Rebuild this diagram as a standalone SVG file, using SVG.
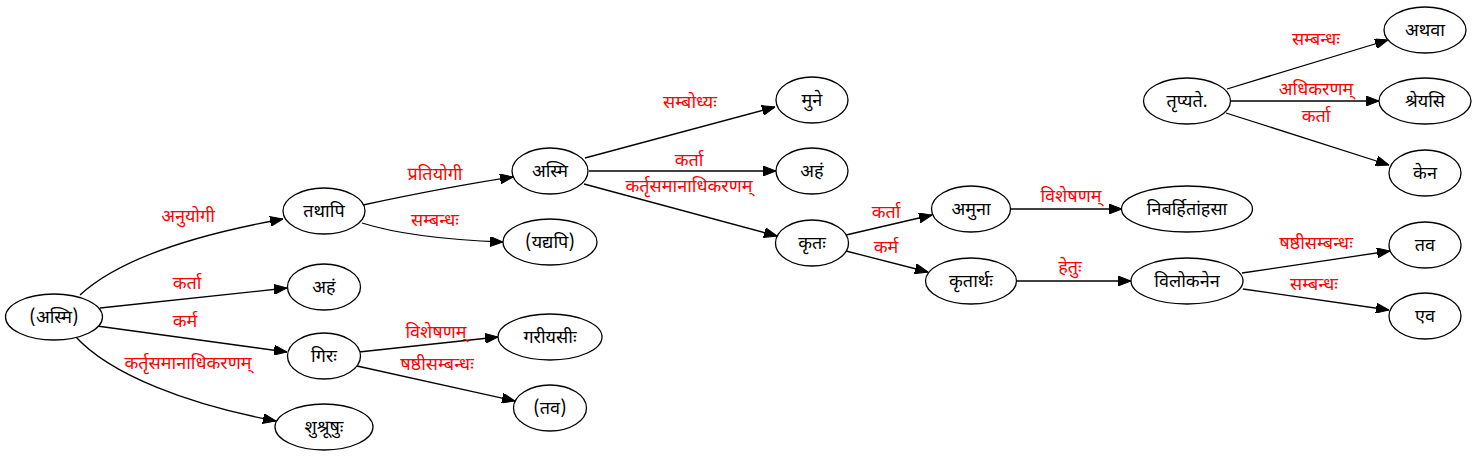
<svg xmlns="http://www.w3.org/2000/svg" width="1476" height="457" viewBox="0 0 1476 457">
<style>
.n ellipse{fill:#fff;stroke:#000;stroke-width:1.3}
.n text{font-family:"Noto Sans Devanagari","Lohit Devanagari","Noto Sans","DejaVu Sans",sans-serif;font-size:18px;fill:#000;text-anchor:middle}
.e path{fill:none;stroke:#000;stroke-width:1.3;marker-end:url(#ah)}
.e text{font-family:"Noto Sans Devanagari","Lohit Devanagari","Noto Sans","DejaVu Sans",sans-serif;font-size:18px;fill:#ff0000;text-anchor:middle}
</style>
<defs>
<marker id="ah" viewBox="0 0 13 10" refX="13" refY="5" markerWidth="13" markerHeight="10" markerUnits="userSpaceOnUse" orient="auto">
<path d="M0,0 L13,5 L0,10 z" fill="#000" stroke="#000" stroke-width="1"/>
</marker>
</defs>
<rect width="1476" height="457" fill="#fff"/>
<g id="edges" class="e">
<path d="M80,295 C120,258 200,234 283,219"/>
<text x="188" y="222">अनुयोगी</text>
<path d="M100,308 L287,288"/>
<text x="187" y="289">कर्ता</text>
<path d="M97,326 L287,352"/>
<text x="185" y="327">कर्म</text>
<path d="M75,336 C110,375 190,405 276,421"/>
<text x="188" y="369">कर्तृसमानाधिकरणम्</text>
<path d="M363,205 C410,195 460,185 513,177"/>
<text x="435" y="180">प्रतियोगी</text>
<path d="M362,223 C400,235 450,240 503,242"/>
<text x="435" y="226">सम्बन्धः</text>
<path d="M359,352 L498,337"/>
<text x="436" y="338">विशेषणम्</text>
<path d="M357,366 L515,401"/>
<text x="437" y="370">षष्ठीसम्बन्धः</text>
<path d="M585,158 L775,107"/>
<text x="690" y="108">सम्बोध्यः</text>
<path d="M589,171 L776,171"/>
<text x="689" y="166">कर्ता</text>
<path d="M584,184 L777,236"/>
<text x="689" y="192">कर्तृसमानाधिकरणम्</text>
<path d="M846,235 L932,215"/>
<text x="886" y="218">कर्ता</text>
<path d="M846,251 L928,272"/>
<text x="886" y="253">कर्म</text>
<path d="M1011,209 L1122,209"/>
<text x="1071" y="202">विशेषणम्</text>
<path d="M1017,281 L1131,281"/>
<text x="1070" y="273">हेतुः</text>
<path d="M1242,273 L1390,251"/>
<text x="1316" y="249">षष्ठीसम्बन्धः</text>
<path d="M1243,289 L1389,310"/>
<text x="1314" y="290">सम्बन्धः</text>
<path d="M1227,89 L1388,40"/>
<text x="1316" y="45">सम्बन्धः</text>
<path d="M1231,101 L1379,101"/>
<text x="1316" y="95">अधिकरणम्</text>
<path d="M1226,113 L1389,165"/>
<text x="1316" y="122">कर्ता</text>
</g>
<g id="n_asmi_root" class="n"><ellipse cx="54" cy="317" rx="48.5" ry="23"/><text x="54" y="323">(अस्मि)</text></g>
<g id="n_tathapi" class="n"><ellipse cx="324" cy="211" rx="41" ry="23"/><text x="324" y="217">तथापि</text></g>
<g id="n_aham1" class="n"><ellipse cx="324" cy="287" rx="36.5" ry="23"/><text x="324" y="293">अहं</text></g>
<g id="n_girah" class="n"><ellipse cx="324" cy="356" rx="36.5" ry="23"/><text x="324" y="362">गिरः</text></g>
<g id="n_shushrushuh" class="n"><ellipse cx="324" cy="427" rx="49" ry="23"/><text x="324" y="433">शुश्रूषुः</text></g>
<g id="n_asmi" class="n"><ellipse cx="550" cy="171" rx="38" ry="23"/><text x="550" y="177">अस्मि</text></g>
<g id="n_yadyapi" class="n"><ellipse cx="550" cy="242" rx="47" ry="23"/><text x="550" y="248">(यद्यपि)</text></g>
<g id="n_gariyasih" class="n"><ellipse cx="550" cy="337" rx="52" ry="23"/><text x="550" y="343">गरीयसीः</text></g>
<g id="n_tava1" class="n"><ellipse cx="550" cy="408" rx="36.5" ry="23"/><text x="550" y="414">(तव)</text></g>
<g id="n_mune" class="n"><ellipse cx="812" cy="100" rx="36" ry="23"/><text x="812" y="106">मुने</text></g>
<g id="n_aham2" class="n"><ellipse cx="812" cy="171" rx="36" ry="23"/><text x="812" y="177">अहं</text></g>
<g id="n_kritah" class="n"><ellipse cx="812" cy="243" rx="36.5" ry="23"/><text x="812" y="249">कृतः</text></g>
<g id="n_amuna" class="n"><ellipse cx="971" cy="209" rx="39.5" ry="23"/><text x="971" y="215">अमुना</text></g>
<g id="n_kritarthah" class="n"><ellipse cx="971" cy="281" rx="45.5" ry="23"/><text x="971" y="287">कृतार्थः</text></g>
<g id="n_nibarhita" class="n"><ellipse cx="1187" cy="209" rx="65.5" ry="23"/><text x="1187" y="215">निबर्हितांहसा</text></g>
<g id="n_vilokanena" class="n"><ellipse cx="1187" cy="281" rx="56" ry="23"/><text x="1187" y="287">विलोकनेन</text></g>
<g id="n_tava2" class="n"><ellipse cx="1425" cy="245" rx="36" ry="23"/><text x="1425" y="251">तव</text></g>
<g id="n_eva" class="n"><ellipse cx="1425" cy="316" rx="36" ry="23"/><text x="1425" y="322">एव</text></g>
<g id="n_tripyate" class="n"><ellipse cx="1187" cy="101" rx="43.5" ry="23"/><text x="1187" y="107">तृप्यते.</text></g>
<g id="n_athava" class="n"><ellipse cx="1425" cy="30" rx="41" ry="23"/><text x="1425" y="36">अथवा</text></g>
<g id="n_shreyasi" class="n"><ellipse cx="1425" cy="101" rx="46" ry="23"/><text x="1425" y="107">श्रेयसि</text></g>
<g id="n_kena" class="n"><ellipse cx="1425" cy="173" rx="36" ry="23"/><text x="1425" y="179">केन</text></g>
</svg>
